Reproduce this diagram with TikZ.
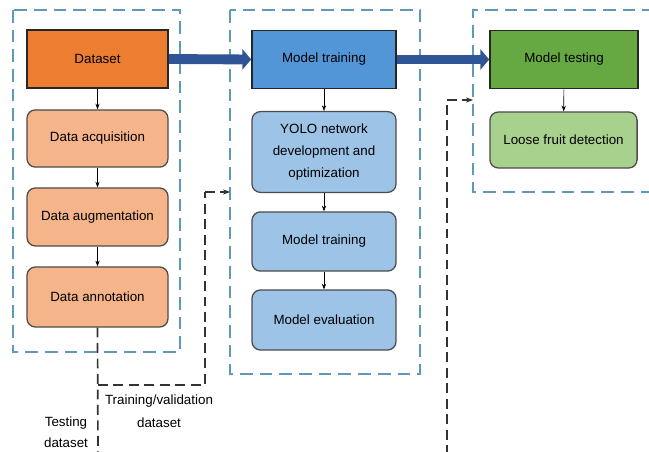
\documentclass[tikz,border=0pt]{standalone}
\usepackage{fontspec}
\setmainfont{Liberation Sans}
\usetikzlibrary{arrows.meta}

\definecolor{orangeD}{HTML}{ED7D31}
\definecolor{orangeL}{HTML}{F5B48A}
\definecolor{blueD}{HTML}{5296D8}
\definecolor{blueL}{HTML}{9DC3E6}
\definecolor{greenD}{HTML}{66A942}
\definecolor{greenL}{HTML}{A9D18E}
\definecolor{arrowblue}{HTML}{2F5597}
\definecolor{groupline}{HTML}{5E9AB8}

\tikzset{
    headbox/.style={draw=black!85, line width=1.1pt, minimum height=1.45cm, font=\fontsize{9.5}{11}\selectfont, align=center},
    subbox/.style={draw=black!70, line width=0.9pt, rounded corners=6pt, font=\fontsize{9.5}{15.5}\selectfont, align=center},
    groupbox/.style={draw=groupline, line width=1.3pt, dash pattern=on 9pt off 5pt},
    dline/.style={black!80, line width=1.2pt, dash pattern=on 7pt off 4pt},
    bigarrow/.style={arrowblue, line width=7pt, -{Triangle[length=0.22cm, width=0.5cm]}},
}

\begin{document}
\begin{tikzpicture}[x=0.025cm, y=-0.025cm, >={Stealth[length=4pt]}]
        \useasboundingbox (0,0) rectangle (649,452);

        \draw[groupbox] (13,10) rectangle (180,352);
        \draw[groupbox] (230,10) rectangle (420,374);
        \draw[groupbox] (655,10) -- (473,10) -- (473,192) -- (655,192);

        \node[headbox, fill=orangeD, minimum width=3.525cm] (dataset) at (97.5,59) {Dataset};
        \node[subbox, fill=orangeL, minimum width=3.525cm, minimum height=1.43cm] (acq) at (97.5,138.5) {Data acquisition};
        \node[subbox, fill=orangeL, minimum width=3.525cm, minimum height=1.45cm] (aug) at (97.5,217) {Data augmentation};
        \node[subbox, fill=orangeL, minimum width=3.525cm, minimum height=1.5cm] (annot) at (97.5,297) {Data annotation};

        \node[headbox, fill=blueD, minimum width=3.6cm] (mtrain) at (324,59.5) {Model training};
        \node[subbox, fill=blueL, minimum width=3.6cm, minimum height=2.02cm] (yolo) at (324,152) {YOLO network\\development and\\optimization};
        \node[subbox, fill=blueL, minimum width=3.6cm, minimum height=1.48cm] (train) at (324,241.5) {Model training};
        \node[subbox, fill=blueL, minimum width=3.6cm, minimum height=1.5cm] (eval) at (324,320) {Model evaluation};

        \node[headbox, fill=greenD, minimum width=3.7cm] (mtest) at (564,59.5) {Model testing};
        \node[subbox, fill=greenL, minimum width=3.68cm, minimum height=1.4cm] (loose) at (563.5,140) {Loose fruit detection};

        \draw[bigarrow] (dataset.east) -- (mtrain.west);
        \draw[bigarrow] (mtrain.east) -- (mtest.west);

        \draw[->] (dataset) -- (acq);
        \draw[->] (acq) -- (aug);
        \draw[->] (aug) -- (annot);
        \draw[->] (mtrain) -- (yolo);
        \draw[->] (yolo) -- (train);
        \draw[->] (train) -- (eval);
        \draw[->] (mtest) -- (loose);

        \coordinate (split) at (98,385);
        \coordinate (tvturn) at (205,192);
        \coordinate (bottom) at (98,455);
        \coordinate (testturn) at (447,100);
        \coordinate (testbottom) at (447,455);
        \draw[dline] (annot.south) -- (bottom);
        \draw[dline] (split) -| (tvturn);
        \draw[dline, -{Stealth[length=5pt]}] (tvturn) -- (230,192);
        \draw[dline] (testbottom) -- (testturn);
        \draw[dline, -{Stealth[length=5pt]}] (testturn) -- (473,100);

        \node[font=\fontsize{9.5}{16}\selectfont, align=center] (tvlabel) at (159,411) {Training/validation\\dataset};
        \node[font=\fontsize{9.5}{15}\selectfont, align=center] (testlabel) at (66,432) {Testing\\dataset};
    \end{tikzpicture}
\end{document}
